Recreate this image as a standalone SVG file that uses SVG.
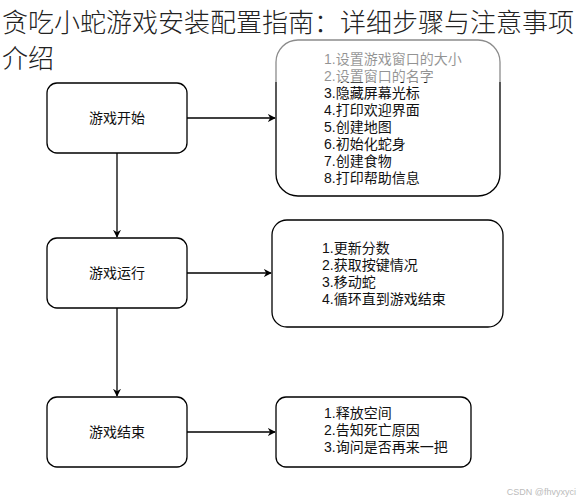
<svg xmlns="http://www.w3.org/2000/svg" width="580" height="500" viewBox="0 0 580 500">
<defs>
<marker id="ah" viewBox="0 0 10 10" refX="9" refY="5" markerWidth="8" markerHeight="8" markerUnits="userSpaceOnUse" orient="auto">
<path d="M0,0 L10,5 L0,10 L3,5 Z" fill="#000"/>
</marker>
<style>
.box{fill:#fff;stroke:#000;stroke-width:1.3}
.lbl{font-family:"Liberation Sans","Noto Sans CJK SC",sans-serif;font-size:14px;fill:#111}
.ctr{text-anchor:middle}
.edge{stroke:#000;stroke-width:1.3;fill:none;marker-end:url(#ah)}
.title{font-family:"Noto Sans CJK SC","Noto Sans",sans-serif;font-size:26px;fill:#222;font-weight:300}
</style>
</defs>
<rect width="580" height="500" fill="#fff"/>
<g id="connectors">
<line class="edge" x1="187" y1="118" x2="275" y2="118"/>
<line class="edge" x1="117" y1="153" x2="117" y2="237"/>
<line class="edge" x1="187" y1="273" x2="271" y2="273"/>
<line class="edge" x1="117" y1="308" x2="117" y2="396"/>
<line class="edge" x1="187" y1="432" x2="275" y2="432"/>
</g>
<g id="start">
<rect class="box" x="47" y="83" width="140" height="70" rx="10"/>
<text class="lbl ctr" x="117" y="123">游戏开始</text>
</g>
<g id="start-detail">
<rect class="box" x="276" y="40" width="224" height="156" rx="22"/>
<text class="lbl" x="324"><tspan x="324" y="64">1.设置游戏窗口的大小</tspan><tspan x="324" y="81">2.设置窗口的名字</tspan><tspan x="324" y="98">3.隐藏屏幕光标</tspan><tspan x="324" y="115">4.打印欢迎界面</tspan><tspan x="324" y="132">5.创建地图</tspan><tspan x="324" y="149">6.初始化蛇身</tspan><tspan x="324" y="166">7.创建食物</tspan><tspan x="324" y="183">8.打印帮助信息</tspan></text>
</g>
<rect x="268" y="36" width="240" height="46" fill="#fff" opacity="0.55"/>
<g id="run">
<rect class="box" x="47" y="238" width="140" height="70" rx="10"/>
<text class="lbl ctr" x="117" y="278">游戏运行</text>
</g>
<g id="run-detail">
<rect class="box" x="272" y="220" width="231" height="107" rx="15"/>
<text class="lbl"><tspan x="322" y="253">1.更新分数</tspan><tspan x="322" y="270">2.获取按键情况</tspan><tspan x="322" y="287">3.移动蛇</tspan><tspan x="322" y="304">4.循环直到游戏结束</tspan></text>
</g>
<g id="end">
<rect class="box" x="47" y="397" width="140" height="70" rx="10"/>
<text class="lbl ctr" x="117" y="437">游戏结束</text>
</g>
<g id="end-detail">
<rect class="box" x="276" y="397" width="195" height="70" rx="10"/>
<text class="lbl"><tspan x="324" y="418">1.释放空间</tspan><tspan x="324" y="435">2.告知死亡原因</tspan><tspan x="324" y="452">3.询问是否再来一把</tspan></text>
</g>
<text class="title" x="2" y="32">贪吃小蛇游戏安装配置指南：详细步骤与注意事项</text>
<text class="title" x="2" y="68">介绍</text>
<text x="576" y="495" text-anchor="end" font-family="Liberation Sans,sans-serif" font-size="9" fill="#bbb">CSDN @fhvyxyci</text>
</svg>
